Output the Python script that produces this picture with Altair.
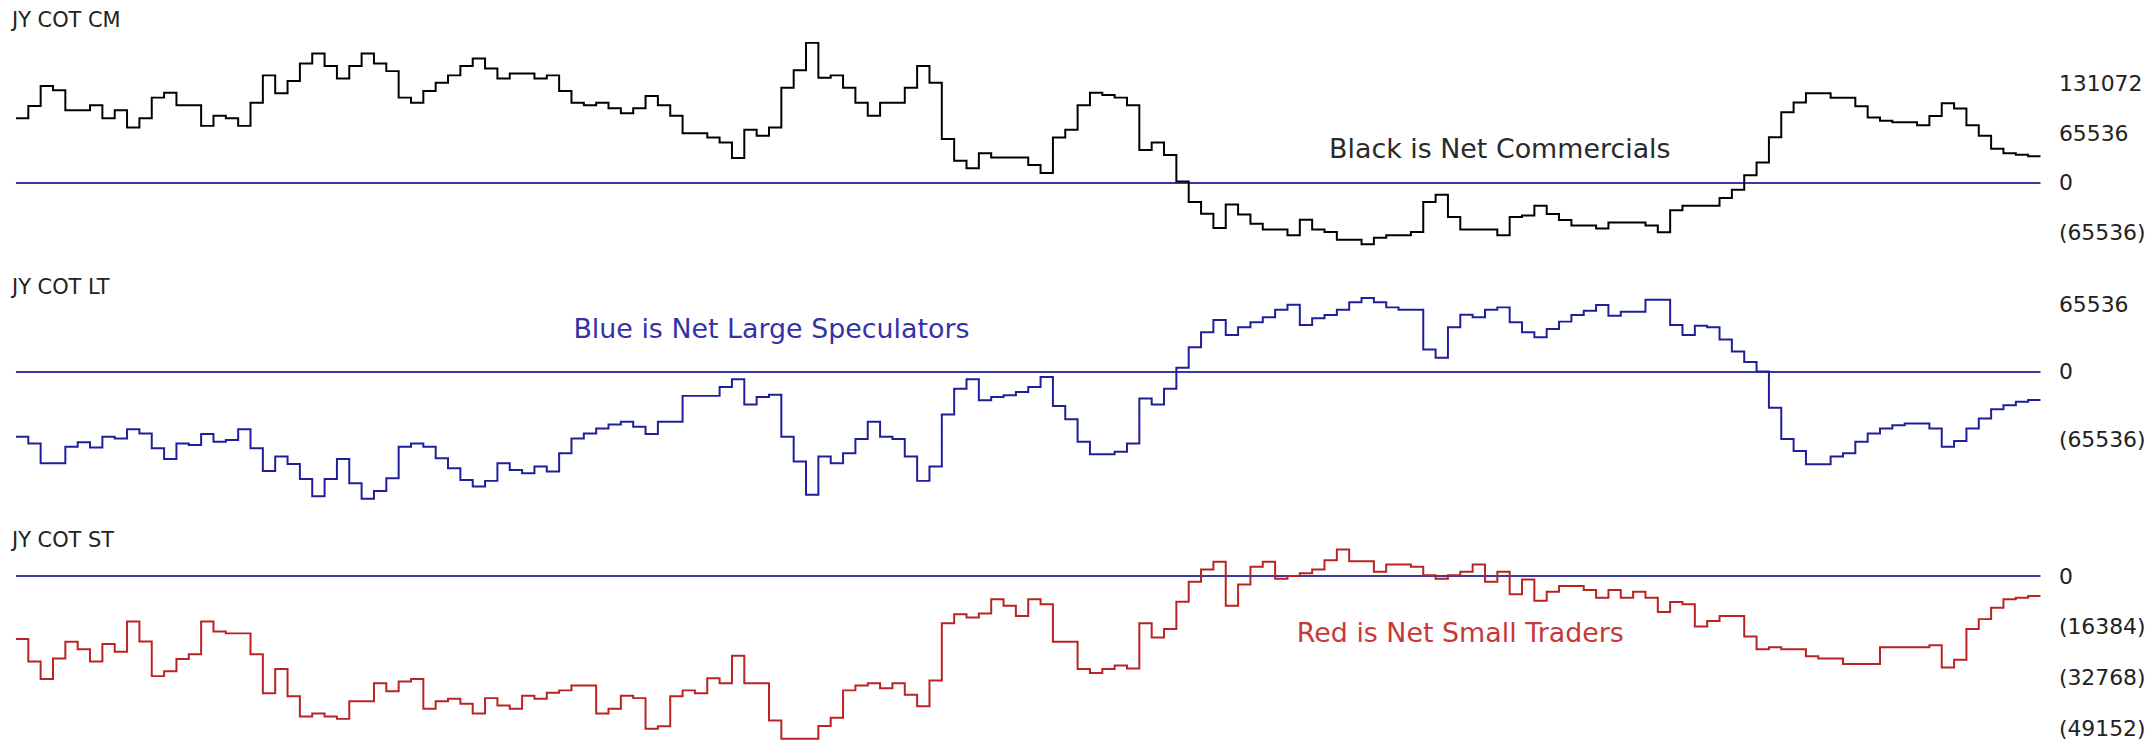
import altair as alt
import pandas as pd

# Net positions, one value per weekly step
cm = [85200, 101400, 127600, 121900, 95700, 95700, 102200, 85200, 95700, 73000,
      85200, 112300, 118800, 102200, 102200, 75100, 88300, 85200, 75100, 105700,
      141600, 118000, 134100, 157300, 170400, 153800, 137600, 153800, 170400, 157300,
      147200, 112300, 105700, 121000, 131900, 141600, 153800, 163800, 150700, 137600,
      144200, 144200, 137600, 141600, 121000, 105700, 102200, 105700, 98300, 91700,
      98300, 114500, 102200, 88300, 65500, 65500, 59900, 53300, 32800, 69900,
      62000, 73000, 125400, 148500, 184400, 138500, 141600, 125400, 105700, 88300,
      105700, 105700, 125400, 153800, 131900, 57700, 29300, 19200, 38900, 33600,
      33600, 33600, 23600, 13100, 59900, 69900, 102200, 118800, 115800, 112300,
      102200, 43300, 53300, 36700, 1700, -25300, -40600, -59400, -28400, -41500,
      -53700, -61200, -61200, -69000, -48500, -61200, -64600, -74700, -74700, -80800,
      -72100, -69000, -69000, -64600, -25300, -15700, -45000, -61200, -61200, -61200,
      -69000, -45000, -43000, -30000, -41000, -49000, -56000, -56000, -60000, -52000,
      -52000, -52000, -56000, -65000, -36000, -30000, -30000, -30000, -20000, -9000,
      10000, 27000, 60000, 93000, 106000, 118000, 118000, 112000, 112000, 101000,
      86000, 82000, 80000, 80000, 76000, 88000, 105000, 98000, 76000, 62000,
      45000, 39000, 37000, 35000]

lt = [-62600, -69100, -88400, -88400, -72300, -68100, -73200, -62600, -64300, -55300,
      -59500, -73900, -84200, -69100, -70700, -60100, -67500, -65900, -55300, -73900,
      -95800, -81900, -89100, -103500, -120200, -103500, -84200, -107700, -122800, -115100,
      -102800, -72300, -69100, -72300, -83600, -93200, -104500, -110800, -105400, -88400,
      -94800, -98000, -91600, -96400, -78700, -64300, -59500, -54600, -50800, -48200,
      -53000, -60100, -48200, -48200, -23100, -23100, -23100, -14500, -7100, -31500,
      -24100, -21900, -62700, -86700, -118900, -81900, -88400, -78700, -64900, -48200,
      -62600, -64900, -81900, -105400, -91600, -41200, -16100, -7100, -27400, -24100,
      -22500, -19300, -14500, -4800, -32800, -45700, -67500, -79700, -79700, -77100,
      -69100, -25700, -31500, -16100, 4100, 24100, 38600, 50400, 35900, 43400,
      48200, 53000, 60300, 65200, 45600, 52000, 55200, 60300, 67500, 71600,
      67500, 62600, 60300, 60300, 21800, 13800, 43400, 55500, 53000, 60300,
      62600, 48200, 38600, 33700, 41700, 48800, 55200, 59400, 64900, 54600,
      58400, 58400, 70000, 70000, 45600, 35900, 44900, 43400, 31400, 19900,
      9600, 600, -34700, -64900, -76500, -89300, -89300, -81900, -78700, -67500,
      -59500, -54600, -51500, -49800, -49800, -54600, -72300, -66900, -54600, -45000,
      -36000, -32200, -28900, -27000]

st = [-20300, -27600, -33200, -26600, -21200, -23600, -27600, -21900, -24400, -14700,
      -21100, -32300, -30700, -26800, -25200, -14700, -17900, -18500, -18500, -25200,
      -37800, -30000, -38800, -45300, -44400, -45300, -46100, -40400, -40400, -34600,
      -37200, -34000, -33200, -42800, -40400, -39600, -41200, -44400, -39400, -41800,
      -42800, -38600, -39600, -37700, -36900, -35300, -35300, -44400, -42800, -38600,
      -39400, -49300, -48500, -38800, -36900, -37800, -33000, -34600, -25700, -34600,
      -34600, -46600, -52500, -52500, -52500, -48400, -45700, -36900, -35300, -34600,
      -36200, -34600, -38300, -42000, -33700, -15200, -12300, -13400, -12100, -7500,
      -9600, -12900, -7500, -9100, -21200, -21200, -30000, -31300, -30000, -28900,
      -29800, -15200, -19800, -17100, -8300, -1800, 2100, 4600, -9600, -2700,
      3000, 4600, -900, 0, 900, 2100, 5100, 8600, 4800, 4800,
      1400, 3700, 3700, 3000, 300, -900, 300, 1400, 3700, -1800,
      1400, -5900, -1100, -8000, -5100, -3200, -3200, -4500, -7000, -4500,
      -7000, -5100, -7000, -11600, -8400, -9100, -16300, -14500, -12900, -12900,
      -19500, -23600, -23000, -23600, -23600, -25900, -26600, -26600, -28400, -28400,
      -28400, -23000, -23000, -23000, -23000, -22300, -29500, -27000, -17100, -13900,
      -10200, -7500, -7000, -6400]

titles = ["JY COT CM", "JY COT LT", "JY COT ST"]
notes = ["Black is Net Commercials", "Blue is Net Large Speculators", "Red is Net Small Traders"]
cm_ticks = [131072, 65536, 0, -65536]
lt_ticks = [65536, 0, -65536]
st_ticks = [0, -16384, -32768, -49152]

N = len(cm)
W = 2034
LABEL_FONT = "DejaVu Sans"
ZERO_COLOR = "#3838a4"


def step_table(vals):
    # closing point so the last weekly step is drawn to its full width
    return pd.DataFrame({"week": list(range(len(vals))) + [len(vals)],
                         "net": vals + [vals[-1]]})


def panel(vals, title, color, domain, ticks, height, title_offset,
          note, note_week, note_net, note_color):
    xs = alt.Scale(domain=[0, N], nice=False, zero=False)
    ys = alt.Scale(domain=domain, nice=False, zero=False)
    yaxis = alt.Axis(orient="right", values=ticks, title=None, domain=False,
                     ticks=False, grid=False, labelPadding=18, labelFontSize=22,
                     labelFont=LABEL_FONT, labelColor="#222222", labelAlign="left",
                     labelExpr="datum.value < 0 ? '(' + format(-datum.value, 'd') + ')' : format(datum.value, 'd')")
    zero = alt.Chart(pd.DataFrame({"net": [0]})).mark_rule(
        color=ZERO_COLOR, strokeWidth=2).encode(
        y=alt.Y("net:Q", scale=ys, axis=yaxis))
    line = alt.Chart(step_table(vals)).mark_line(
        interpolate="step-after", color=color, strokeWidth=2).encode(
        x=alt.X("week:Q", scale=xs, axis=None),
        y=alt.Y("net:Q", scale=ys))
    text = alt.Chart(pd.DataFrame({"week": [note_week], "net": [note_net],
                                   "label": [note]})).mark_text(
        font="DejaVu Sans", fontSize=27, color=note_color,
        align="center", baseline="middle").encode(
        x=alt.X("week:Q", scale=xs, axis=None),
        y=alt.Y("net:Q", scale=ys),
        text="label:N")
    return alt.layer(zero, line, text).properties(
        width=W, height=height,
        title=alt.TitleParams(title, anchor="start", offset=title_offset,
                              fontSize=21, font=LABEL_FONT, fontWeight="normal",
                              color="#222222"))


p1 = panel(cm, titles[0], "#000000", [-98304, 187433], cm_ticks, 218, 8,
           notes[0], 120.2, 43250, "#2a2a2a")
p2 = panel(lt, titles[1], "#1f1f9c", [-133968, 73249], lt_ticks, 215, -5,
           notes[1], 61.2, 40500, "#3333a8")
p3 = panel(st, titles[2], "#bb2222", [-52693, 9639], st_ticks, 194, -6,
           notes[2], 117.0, -18600, "#c83838")

chart = alt.vconcat(p1, p2, p3, spacing=20).properties(
    padding={"left": 4, "top": 0, "right": 0, "bottom": 0}
).configure_view(strokeWidth=0)

chart.save("out.html", embed_options={"renderer": "svg", "actions": False})
